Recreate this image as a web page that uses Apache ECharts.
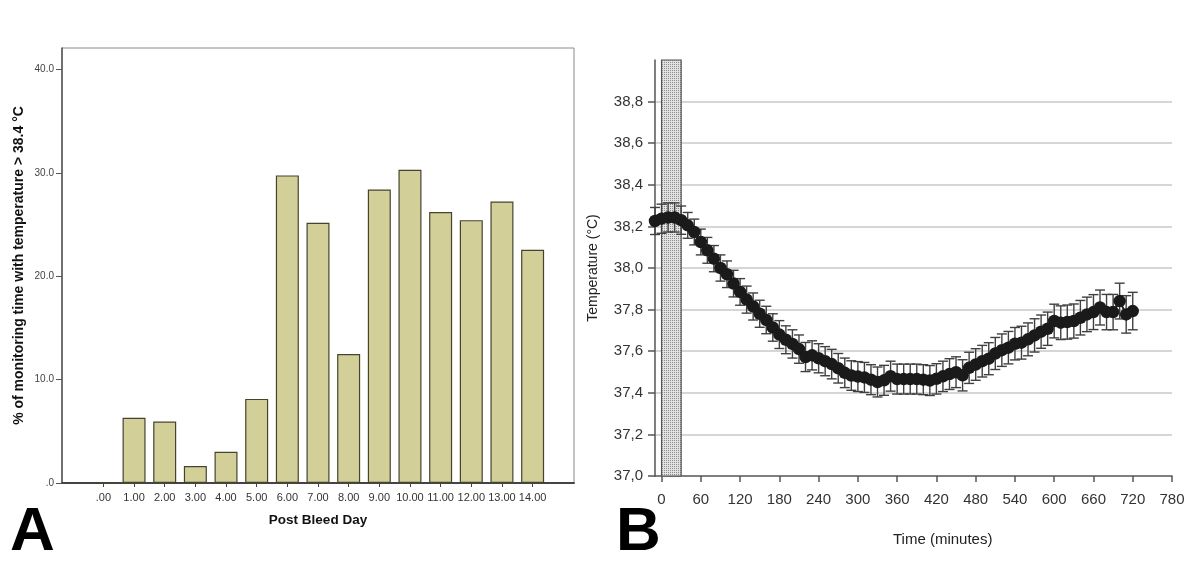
<!DOCTYPE html>
<html><head><meta charset="utf-8">
<script src="https://cdn.jsdelivr.net/npm/echarts@6/dist/echarts.min.js"></script>
<style>html,body{margin:0;padding:0;background:#fff}#c{width:1200px;height:565px}</style>
</head><body><div id="c"></div>
<script>
// ---- Panel A data ----
const dayValues = [0, 1, 2, 3, 4, 5, 6, 7, 8, 9, 10, 11, 12, 13, 14];
const dayLabels = ['.00', '1.00', '2.00', '3.00', '4.00', '5.00', '6.00', '7.00', '8.00', '9.00', '10.00', '11.00', '12.00', '13.00', '14.00'];
const pctValues = [0, 6.32, 5.94, 1.65, 3.03, 8.14, 29.77, 25.18, 12.49, 28.41, 30.31, 26.22, 25.44, 27.25, 22.57];
const pctTicks = [0, 10, 20, 30, 40];
const pctTickLabels = ['.0', '10.0', '20.0', '30.0', '40.0'];

// ---- Panel B data ----
const times = [-10, 0, 10, 20, 30, 40, 50, 60, 70, 80, 90, 100, 110, 120, 130, 140, 150, 160, 170, 180,
  190, 200, 210, 220, 230, 240, 250, 260, 270, 280, 290, 300, 310, 320, 330, 340, 350, 360, 370, 380,
  390, 400, 410, 420, 430, 440, 450, 460, 470, 480, 490, 500, 510, 520, 530, 540, 550, 560, 570, 580,
  590, 600, 610, 620, 630, 640, 650, 660, 670, 680, 690, 700, 710, 720];
const temps = [38.226, 38.237, 38.243, 38.243, 38.23, 38.205, 38.173, 38.125, 38.085, 38.045, 38.0, 37.97, 37.925, 37.885, 37.848, 37.815, 37.78, 37.75, 37.714, 37.68,
  37.655, 37.635, 37.61, 37.572, 37.58, 37.566, 37.552, 37.538, 37.518, 37.496, 37.483, 37.478, 37.474, 37.463, 37.452, 37.46, 37.48, 37.466, 37.466, 37.466,
  37.466, 37.463, 37.459, 37.467, 37.479, 37.49, 37.499, 37.484, 37.52, 37.536, 37.552, 37.564, 37.589, 37.605, 37.617, 37.636, 37.641, 37.657, 37.676, 37.694,
  37.708, 37.745, 37.737, 37.74, 37.745, 37.761, 37.777, 37.788, 37.81, 37.788, 37.788, 37.841, 37.777, 37.793];
const errors = [0.065, 0.07, 0.07, 0.07, 0.068, 0.062, 0.062, 0.062, 0.062, 0.063, 0.063, 0.064, 0.064, 0.064, 0.065, 0.065, 0.065, 0.066, 0.066, 0.067,
  0.067, 0.068, 0.068, 0.07, 0.07, 0.07, 0.07, 0.071, 0.071, 0.071, 0.071, 0.072, 0.072, 0.072, 0.072, 0.072, 0.072, 0.072, 0.072, 0.072,
  0.072, 0.072, 0.072, 0.073, 0.073, 0.074, 0.074, 0.075, 0.075, 0.076, 0.076, 0.077, 0.077, 0.078, 0.078, 0.078, 0.079, 0.079, 0.08, 0.08,
  0.08, 0.081, 0.081, 0.082, 0.082, 0.083, 0.083, 0.084, 0.084, 0.085, 0.085, 0.086, 0.09, 0.09];
const timeTicks = [0, 60, 120, 180, 240, 300, 360, 420, 480, 540, 600, 660, 720, 780];
const shadeRange = [0, 30];

const FONT = 'Liberation Sans, Arial, sans-serif';

// dotted pattern for the shaded period
const pat = document.createElement('canvas');
pat.width = 2; pat.height = 2;
const pc = pat.getContext('2d');
pc.fillStyle = '#e2e2e2'; pc.fillRect(0, 0, 2, 2);
pc.fillStyle = '#8a8a8a'; pc.fillRect(0, 0, 1, 1);

const chart = echarts.init(document.getElementById('c'), null, {renderer: 'canvas'});

const option = {
  backgroundColor: '#fff',
  animation: false,
  grid: [
    {left: 62, right: 626, top: 48, bottom: 82, show: true, borderColor: '#8a8a8a', borderWidth: 1},
    {left: 655, right: 28, top: 60, bottom: 89}
  ],
  xAxis: [
    {
      gridIndex: 0, type: 'value', min: -1.35, max: 15.35,
      axisLine: {show: true, onZero: false, lineStyle: {color: '#444', width: 2}},
      axisTick: {show: true, length: 4, customValues: dayValues, lineStyle: {color: '#444'}},
      axisLabel: {customValues: dayValues, margin: 9, fontSize: 11, color: '#333', fontFamily: FONT,
        formatter: v => dayLabels[dayValues.indexOf(v)]},
      splitLine: {show: false},
      name: 'Post Bleed Day', nameLocation: 'middle', nameGap: 30,
      nameTextStyle: {fontSize: 13.5, fontWeight: 'bold', color: '#111', fontFamily: FONT}
    },
    {
      gridIndex: 1, type: 'value', min: -10, max: 780,
      axisLine: {show: true, onZero: false, lineStyle: {color: '#555', width: 1.5}},
      axisTick: {show: true, length: 6, customValues: timeTicks, lineStyle: {color: '#555', width: 1.5}},
      axisLabel: {customValues: timeTicks, margin: 16, fontSize: 15, color: '#333', fontFamily: FONT},
      splitLine: {show: false}
    }
  ],
  yAxis: [
    {
      gridIndex: 0, type: 'value', min: 0, max: 42.1,
      axisLine: {show: true, onZero: false, lineStyle: {color: '#555', width: 1.5}},
      axisTick: {show: true, length: 6, customValues: pctTicks, lineStyle: {color: '#555'}},
      axisLabel: {customValues: pctTicks, margin: 8, fontSize: 10, color: '#444', fontFamily: FONT,
        formatter: v => pctTickLabels[pctTicks.indexOf(v)]},
      splitLine: {show: false},
      name: '% of monitoring time with temperature > 38.4 °C', nameLocation: 'middle', nameGap: 36,
      nameTextStyle: {fontSize: 14, fontWeight: 'bold', color: '#111', fontFamily: FONT}
    },
    {
      gridIndex: 1, type: 'value', min: 37, max: 39, interval: 0.2,
      axisLine: {show: true, onZero: false, lineStyle: {color: '#555', width: 1.5}},
      axisTick: {show: true, length: 7, lineStyle: {color: '#555', width: 1.5}},
      axisLabel: {margin: 12, fontSize: 15, color: '#333', fontFamily: FONT, showMaxLabel: false,
        formatter: v => v.toFixed(1).replace('.', ',')},
      splitLine: {show: true, showMinLine: false, showMaxLine: false, lineStyle: {color: '#c8c8c8', width: 1.5}},
      name: 'Temperature (°C)', nameLocation: 'middle', nameGap: 55,
      nameTextStyle: {fontSize: 14, color: '#222', fontFamily: FONT}
    }
  ],
  series: [
    {
      type: 'bar', xAxisIndex: 0, yAxisIndex: 0, barWidth: 23,
      data: dayValues.map((d, i) => [d, pctValues[i]]),
      itemStyle: {color: '#d3cf99', borderColor: '#45452f', borderWidth: 1.2}
    },
    {
      type: 'line', xAxisIndex: 1, yAxisIndex: 1, data: [], z: 1,
      markArea: {
        silent: true,
        itemStyle: {color: {image: pat, repeat: 'repeat'}, borderColor: '#555', borderWidth: 1.2},
        data: [[{coord: [shadeRange[0], 37]}, {coord: [shadeRange[1], 39]}]]
      }
    },
    {
      type: 'custom', xAxisIndex: 1, yAxisIndex: 1, z: 3,
      data: times.map((t, i) => [t, temps[i] - errors[i], temps[i] + errors[i]]),
      renderItem: function (params, api) {
        const lo = api.coord([api.value(0), api.value(1)]);
        const hi = api.coord([api.value(0), api.value(2)]);
        const w = 5;
        const st = {stroke: '#404040', lineWidth: 1.4};
        return {type: 'group', children: [
          {type: 'line', shape: {x1: lo[0], y1: lo[1], x2: hi[0], y2: hi[1]}, style: st},
          {type: 'line', shape: {x1: lo[0] - w, y1: lo[1], x2: lo[0] + w, y2: lo[1]}, style: st},
          {type: 'line', shape: {x1: hi[0] - w, y1: hi[1], x2: hi[0] + w, y2: hi[1]}, style: st}
        ]};
      }
    },
    {
      type: 'line', xAxisIndex: 1, yAxisIndex: 1, z: 4,
      data: times.map((t, i) => [t, temps[i]]),
      symbol: 'circle', symbolSize: 12.5, showSymbol: true,
      lineStyle: {color: '#1a1a1a', width: 2},
      itemStyle: {color: '#1a1a1a', borderWidth: 0}
    }
  ],
  graphic: [
    {type: 'text', left: 10, top: 502, style: {text: 'A', font: 'bold 62px ' + FONT, fill: '#000'}},
    {type: 'text', left: 616, top: 502, style: {text: 'B', font: 'bold 62px ' + FONT, fill: '#000'}},
    {type: 'text', left: 893, top: 532, style: {text: 'Time (minutes)', font: '15px ' + FONT, fill: '#222'}}
  ]
};
chart.setOption(option);
</script>
</body></html>
